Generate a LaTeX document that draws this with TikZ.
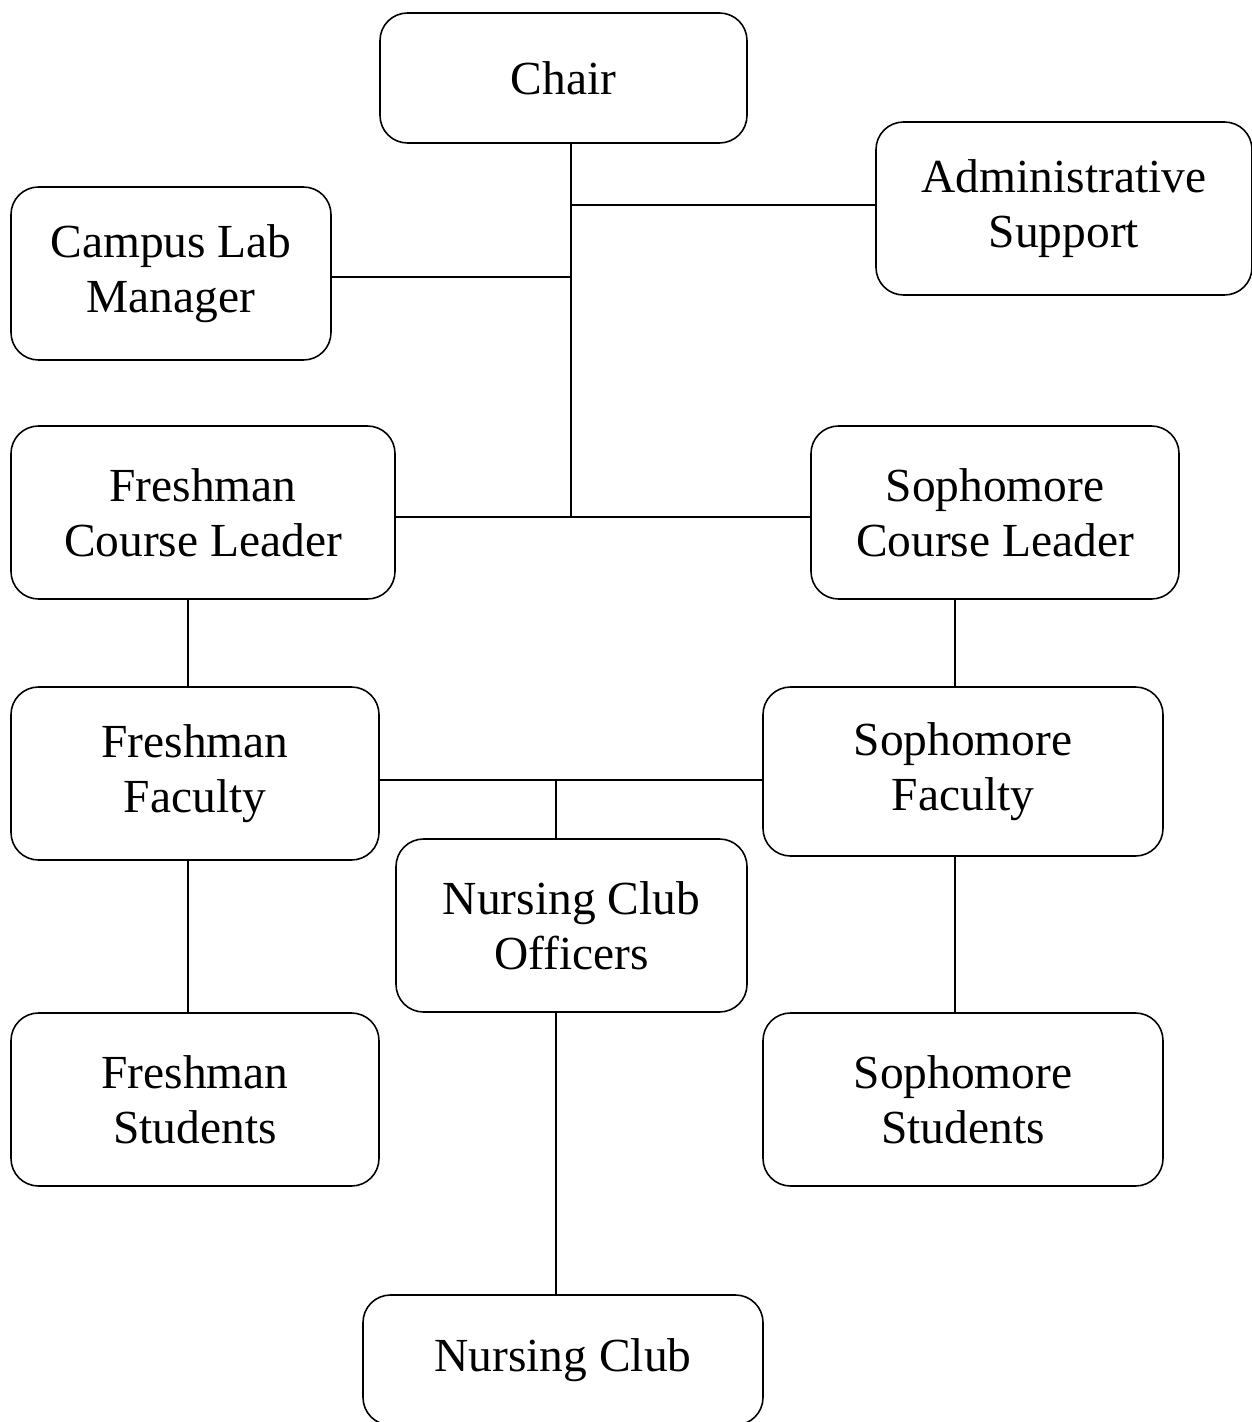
\documentclass[tikz,border=0pt]{standalone}
\usepackage{fontspec}
\setmainfont{Liberation Serif}
\usepackage{tikz}
\usetikzlibrary{positioning}
\definecolor{cLine}{HTML}{000000}
\tikzset{
  org/box/.style={draw=cLine, line width=0.9pt, rounded corners=0.55cm,
                  minimum width=7.36cm, minimum height=3.46cm,
                  align=center, inner sep=2pt,
                  font=\fontsize{27}{31.3}\selectfont},
  org/link/.style={draw=cLine, line width=0.9pt}
}
\begin{document}
\begin{tikzpicture}
  \useasboundingbox (0,0) rectangle (25.04,-28.44);
  % top level
  \node[org/box, minimum width=7.34cm, minimum height=2.6cm] (chair) at (11.27,-1.56) {Chair};
  \node[org/box, minimum width=7.52cm] (admin)  at (21.28,-4.17) {Administrative\\Support};
  \node[org/box, minimum width=6.4cm]  (campus) at (3.42,-5.47)  {Campus Lab\\Manager};
  % course leaders
  \node[org/box, minimum width=7.68cm] (fcl) at (4.06,-10.25) {Freshman\\Course Leader};
  \node[org/box]                       (scl) at (19.9,-10.25) {Sophomore\\Course Leader};
  % faculty
  \node[org/box]                                          (ff) at (3.9,-15.47)   {Freshman\\Faculty};
  \node[org/box, minimum width=8cm, minimum height=3.38cm] (sf) at (19.26,-15.43) {Sophomore\\Faculty};
  \node[org/box, minimum width=7.02cm] (nco) at (11.43,-18.51) {Nursing Club\\Officers};
  % students and club
  \node[org/box]                      (fs) at (3.9,-21.99)   {Freshman\\Students};
  \node[org/box, minimum width=8cm]   (ss) at (19.26,-21.99) {Sophomore\\Students};
  \node[org/box, minimum width=8cm, minimum height=2.6cm] (nc) at (11.26,-27.2) {Nursing Club};

  % junction points
  \coordinate (trunk) at (11.42,-10.34);
  \coordinate (adm)   at (11.42,-4.1);
  \coordinate (cam)   at (11.42,-5.54);
  \coordinate (lft)   at (3.76,0);
  \coordinate (rgt)   at (19.1,0);
  \coordinate (mid)   at (11.12,-15.6);

  \draw[org/link] (chair.south -| trunk) -- (trunk);
  \draw[org/link] (adm) -- (admin.west |- adm);
  \draw[org/link] (campus.east |- cam) -- (cam);
  \draw[org/link] (fcl.east |- trunk) -- (scl.west |- trunk);
  \draw[org/link] (fcl.south -| lft) -- (ff.north -| lft);
  \draw[org/link] (scl.south -| rgt) -- (sf.north -| rgt);
  \draw[org/link] (ff.east |- mid) -- (sf.west |- mid);
  \draw[org/link] (mid) -- (nco.north -| mid);
  \draw[org/link] (ff.south -| lft) -- (fs.north -| lft);
  \draw[org/link] (sf.south -| rgt) -- (ss.north -| rgt);
  \draw[org/link] (nco.south -| mid) -- (nc.north -| mid);
\end{tikzpicture}
\end{document}
